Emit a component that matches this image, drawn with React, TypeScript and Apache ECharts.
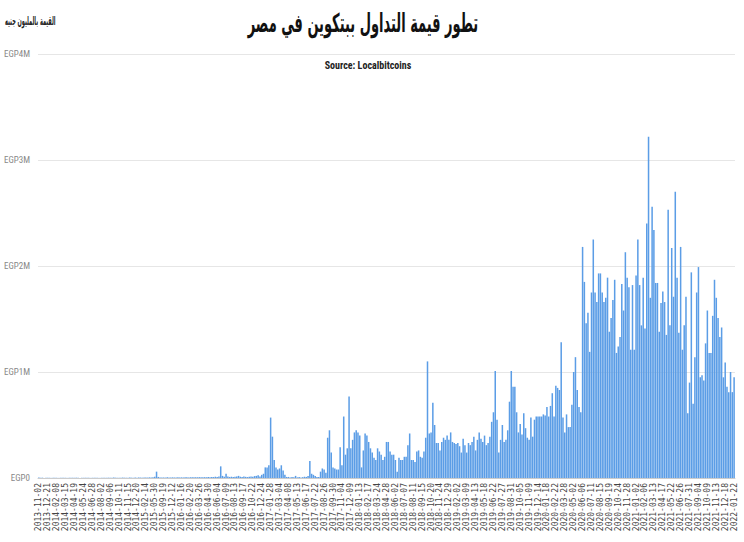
import React, { useEffect, useRef } from "react";
import * as echarts from "echarts";

const TITLE = "تطور قيمة التداول ببتكوين في مصر";
const SUBTITLE = "Source: Localbitcoins";
const Y_NAME = "القيمة بالمليون جنيه";

const FIRST_WEEK = "2013-11-02";
const LAST_WEEK = "2022-01-22";
// weeks with no reported volume (not present in the category list)
const MISSING_WEEKS = [
  "2013-11-16", "2013-11-30", "2013-12-28", "2014-01-11",
  "2015-01-10", "2015-01-24", "2015-02-07", "2015-02-21", "2015-02-28",
  "2015-03-14", "2015-03-21", "2015-04-04", "2015-04-11", "2015-04-25",
  "2015-05-02", "2015-05-16", "2015-05-23", "2015-06-06", "2015-06-13",
  "2015-06-27", "2015-07-04", "2015-07-18", "2015-07-25", "2015-08-08",
  "2015-08-15", "2015-08-29", "2015-09-05", "2015-09-12",
  "2015-09-26", "2015-10-10", "2015-10-17", "2015-10-31", "2015-11-07",
  "2015-11-21", "2015-12-05",
  "2016-10-29", "2016-11-12", "2016-11-26", "2016-12-10",
];

// weekly values, millions of EGP
const VALUES_2013_2016 = [
  0.004, 0.002, 0.003, 0.001, 0.002, 0.003, 0.002, 0.001, 0.002, 0.003,
  0.002, 0.001, 0.002, 0.003, 0.002, 0.002, 0.001, 0.002, 0.003, 0.002,
  0.002, 0.003, 0.002, 0.001, 0.002, 0.002, 0.003, 0.002, 0.002, 0.001,
  0.002, 0.003, 0.002, 0.002, 0.001, 0.002, 0.003, 0.002, 0.002, 0.003,
  0.002, 0.002, 0.004, 0.003, 0.002, 0.003, 0.002, 0.004, 0.003, 0.002,
  0.003, 0.004, 0.003, 0.002, 0.004, 0.003, 0.005, 0.004, 0.003, 0.004,
  0.005, 0.004, 0.006, 0.005, 0.008, 0.012, 0.06, 0.01, 0.005, 0.004,
  0.005, 0.004, 0.006, 0.005, 0.004, 0.006, 0.005, 0.004, 0.006, 0.005,
  0.006, 0.005, 0.007, 0.006, 0.005, 0.007, 0.006, 0.008, 0.006, 0.007,
  0.008, 0.007, 0.006, 0.008, 0.007, 0.009, 0.008, 0.01, 0.009, 0.012,
  0.01, 0.015, 0.11, 0.02, 0.012, 0.04, 0.015, 0.01, 0.012, 0.009,
  0.011, 0.014, 0.02, 0.012, 0.01, 0.013, 0.011, 0.009, 0.012, 0.015,
  0.012, 0.018, 0.02, 0.025, 0.015, 0.03, 0.04,
];
const VALUES_2017_2019 = [
  0.10, 0.10, 0.12, 0.57, 0.39, 0.17, 0.10, 0.08, 0.09, 0.12, 0.07, 0.03, 0.01,
  0.01, 0.005, 0.01, 0.008, 0.02, 0.006, 0.01, 0.005, 0.008, 0.012, 0.01, 0.02,
  0.16, 0.04, 0.03, 0.02, 0.01, 0.01, 0.06, 0.09, 0.08, 0.05,
  0.38, 0.45, 0.24, 0.10, 0.09, 0.08, 0.08, 0.29, 0.12, 0.58,
  0.22, 0.28, 0.77, 0.28, 0.36, 0.43, 0.45, 0.43, 0.40, 0.10,
  0.26, 0.42, 0.40, 0.34, 0.28, 0.24, 0.19, 0.17, 0.28, 0.25,
  0.22, 0.17, 0.20, 0.34, 0.34, 0.25, 0.22, 0.22, 0.17, 0.06,
  0.19, 0.17, 0.17, 0.20, 0.20, 0.31, 0.42, 0.17, 0.17, 0.15,
  0.25, 0.26, 0.20, 0.19, 0.25, 0.38, 1.10, 0.42, 0.43, 0.71,
  0.50, 0.33, 0.33, 0.26, 0.34, 0.38, 0.36, 0.40, 0.36, 0.43,
  0.34, 0.33, 0.32, 0.33, 0.30, 0.24, 0.37, 0.31, 0.24, 0.33, 0.31,
  0.34, 0.39, 0.26, 0.36, 0.43, 0.37, 0.34, 0.40, 0.31, 0.33,
  0.39, 0.53, 0.62, 1.01, 0.55, 0.24, 0.36, 0.50, 0.34, 0.36,
  0.45, 0.72, 1.01, 0.86, 0.86, 0.62, 0.43, 0.51, 0.41, 0.61,
  0.47, 0.38, 0.36, 0.57, 0.39, 0.55, 0.58, 0.58, 0.58, 0.58, 0.60,
  0.59, 0.67, 0.58, 0.68, 0.80, 0.58, 0.87, 0.85, 0.83, 1.28,
  0.57, 0.43, 0.60, 0.48, 0.48, 0.69, 1.00, 1.14, 0.83, 0.67,
];
const VALUES_2020_2022 = [
  0.62, 2.18, 1.85, 1.46, 1.56, 1.19, 1.75, 2.25, 1.75, 1.66,
  1.93, 1.93, 1.75, 1.66, 1.70, 1.89, 1.38, 1.51, 1.68, 1.87, 1.18,
  1.24, 1.33, 1.83, 1.58, 2.13, 1.89, 1.80, 1.21, 1.82, 1.21,
  1.91, 2.25, 1.82, 1.44, 1.89, 1.41, 2.40, 3.22, 1.70, 2.56,
  2.34, 1.84, 1.84, 1.38, 1.65, 1.76, 1.66, 1.35, 2.53, 1.44,
  2.17, 1.71, 2.70, 1.89, 1.37, 2.18, 1.21, 1.44, 1.71, 0.61,
  0.90, 1.94, 0.70, 1.14, 1.75, 1.99, 0.95, 0.97, 0.92, 1.27,
  1.58, 1.18, 1.18, 1.53, 1.87, 1.70, 1.51, 1.33, 1.42, 0.95,
  1.09, 0.86, 0.81, 1.00, 0.81, 0.95,
];

const Y_MAX = 4;
const Y_STEP = 1;

function buildWeeks(): string[] {
  const out: string[] = [];
  const missing = new Set(MISSING_WEEKS);
  const d = new Date(FIRST_WEEK + "T00:00:00Z");
  const end = new Date(LAST_WEEK + "T00:00:00Z");
  while (d.getTime() <= end.getTime()) {
    const s = d.toISOString().slice(0, 10);
    if (!missing.has(s)) out.push(s);
    d.setUTCDate(d.getUTCDate() + 7);
  }
  return out;
}

export default function App() {
  const ref = useRef<HTMLDivElement>(null);
  useEffect(() => {
    if (!ref.current) return;
    const chart = echarts.init(ref.current, null, { renderer: "svg" });
    const weeks = buildWeeks();
    const values = [...VALUES_2013_2016, ...VALUES_2017_2019, ...VALUES_2020_2022];
    chart.setOption({
      animation: false,
      backgroundColor: "#ffffff",
      title: [
        {
          text: SUBTITLE,
          left: 363,
          top: 55,
          textAlign: "center",
          textStyle: {
            fontSize: 10,
            fontWeight: "bold",
            color: "#222",
            fontFamily: "'Liberation Sans Narrow', 'Roboto Condensed', 'Liberation Sans', sans-serif",
          },
        },
      ],
      graphic: [
        {
          type: "text",
          x: 363,
          y: 23,
          scaleX: 0.5,
          style: {
            text: TITLE,
            fontSize: 26,
            fontWeight: "bold",
            fontFamily: "DejaVu Sans",
            fill: "#111",
            textAlign: "center",
            textVerticalAlign: "middle",
          },
        },
        {
          type: "text",
          x: 5,
          y: 20,
          scaleX: 0.42,
          style: {
            text: Y_NAME,
            fontSize: 12,
            fontWeight: "bold",
            fontFamily: "DejaVu Sans",
            fill: "#222",
            textAlign: "left",
            textVerticalAlign: "middle",
          },
        },
      ],
      grid: { left: 38, right: 9, top: 54, bottom: 64, containLabel: false },
      xAxis: {
        type: "category",
        data: weeks,
        axisLine: { show: true, lineStyle: { color: "#cccccc" } },
        axisTick: { show: false },
        axisLabel: {
          interval: 4,
          rotate: 90,
          fontSize: 8,
          color: "#444",
          margin: 5,
          fontFamily: "'DejaVu Sans Mono', monospace",
        },
      },
      yAxis: {
        type: "value",
        min: 0,
        max: Y_MAX,
        interval: Y_STEP,
        axisLine: { show: false },
        axisTick: { show: false },
        splitLine: { lineStyle: { color: "#e6e6e6" } },
        axisLabel: {
          formatter: (v: number) => (v === 0 ? "EGP0" : "EGP" + v + "M"),
          fontSize: 9,
          color: "#888",
          margin: 8,
          fontFamily: "'Liberation Sans Narrow', 'Roboto Condensed', 'Liberation Sans', sans-serif",
        },
      },
      series: [
        {
          type: "bar",
          data: values,
          barCategoryGap: "15%",
          itemStyle: { color: "#5b9de6" },
        },
      ],
    });
    return () => chart.dispose();
  }, []);
  return (
    <div
      ref={ref}
      style={{ position: "fixed", left: 0, top: 0, width: 744, height: 542, background: "#fff" }}
    />
  );
}
